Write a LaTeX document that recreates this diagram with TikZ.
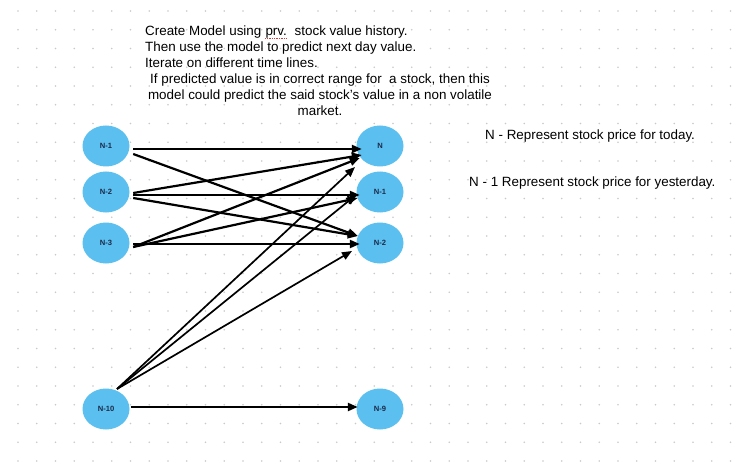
\documentclass[tikz,border=0pt]{standalone}
\usepackage{fontspec}
\setmainfont{Liberation Sans}
\setsansfont{Liberation Sans}
\usetikzlibrary{shapes.geometric,arrows.meta,calc}
\definecolor{nodeblue}{HTML}{5BC0F0}
\definecolor{labelnavy}{HTML}{1B2A4A}
\definecolor{dotgray}{HTML}{C9C9C9}
\definecolor{spellred}{HTML}{D23C3C}
\tikzset{
  stocknode/.style={ellipse, fill=nodeblue, draw=none, minimum width=47pt, minimum height=41pt, inner sep=0pt,
    font=\fontsize{7.6}{8}\selectfont\bfseries, text=labelnavy},
  conn/.style={draw=black, line width=2.2pt, -{Triangle[length=10pt,width=8pt]}},
  connthin/.style={draw=black, line width=1.7pt, -{Triangle[length=10pt,width=8pt]}},
  bodytext/.style={font=\fontsize{13.4}{15}\selectfont, text=black, inner sep=0pt},
  spellline/.style={draw=spellred, line width=0.8pt, dash pattern=on 1pt off 0.7pt},
}
\begin{document}
\begin{tikzpicture}[x=1pt,y=-1pt]
\useasboundingbox (0,0) rectangle (741,465);
\fill[white] (0,0) rectangle (741,465);
% dotted grid
\foreach \i in {0,...,38} {
  \foreach \j in {0,...,24} {
    \fill[dotgray] ({18+18.75*\i},{11+18.75*\j}) circle (0.8pt);
  }
}
% nodes
\node[stocknode] (n1)  at (106,146) {N-1};
\node[stocknode] (n2)  at (106,192) {N-2};
\node[stocknode] (n3)  at (106,243) {N-3};
\node[stocknode] (n10) at (106,409) {N-10};
\node[stocknode] (n)   at (380,146) {N};
\node[stocknode] (m1)  at (380,192) {N-1};
\node[stocknode] (m2)  at (380,243) {N-2};
\node[stocknode] (m9)  at (380,409) {N-9};
% connectors
\draw[conn] ($(n1.east)+(3.5,3)$) -- ($(n.west)+(5.5,3)$);
\draw[conn] ($(n1.east)+(3.5,8)$) -- ($(m2.west)+(1.5,-7)$);
\draw[conn] ($(n2.east)+(3.5,1)$) -- ($(n.west)+(5.5,9)$);
\draw[conn] ($(n2.east)+(3.5,3)$) -- ($(m1.west)+(3.5,3)$);
\draw[conn] ($(n2.east)+(3.5,6)$) -- ($(m2.west)+(1.5,-7)$);
\draw[conn] ($(n3.east)+(3.5,4)$) -- ($(n.west)+(3.5,12)$);
\draw[conn] ($(n3.east)+(3.5,4)$) -- ($(m1.west)+(1.5,6)$);
\draw[conn] ($(n3.east)+(3.5,1)$) -- ($(m2.west)+(3.5,1)$);
\coordinate (s10) at ($(n10.center)+(11,-20)$);
\draw[connthin] (s10) -- ($(n.center)+(-25,21)$);
\draw[connthin] (s10) -- ($(m1.center)+(-24,3)$);
\draw[connthin] (s10) -- ($(m2.center)+(-28,8)$);
\draw[conn] ($(n10.east)+(1,-2)$) -- ($(m9.west)+(1.5,-2)$);
% top text
\node[bodytext, anchor=base west] (t1a) at (145,36) {Create Model using};
\node[bodytext, anchor=base west] (t1b) at ([xshift=3.72pt]t1a.base east) {prv.};
\node[bodytext, anchor=base west] (t1c) at ([xshift=7.45pt]t1b.base east) {stock value history.};
\draw[spellline] ([yshift=-2.6pt]t1b.base west) -- ([yshift=-2.6pt]t1b.base east);
\node[bodytext, anchor=base west] (t2) at (145,52) {Then use the model to predict next day value.};
\node[bodytext, anchor=base west] (t3) at (145,68) {Iterate on different time lines.};
\node[bodytext, anchor=base] (t4) at (320,84) {If predicted value is in correct range for\ \ a stock, then this};
\node[bodytext, anchor=base] (t5) at (320,100) {model could predict the said stock's value in a non volatile};
\node[bodytext, anchor=base] (t6) at (320,116) {market.};
% right text
\node[bodytext, anchor=base west] (r1) at (485,140) {N - Represent stock price for today.};
\node[bodytext, anchor=base west] (r2) at (469,186) {N - 1 Represent stock price for yesterday.};
\end{tikzpicture}
\end{document}
